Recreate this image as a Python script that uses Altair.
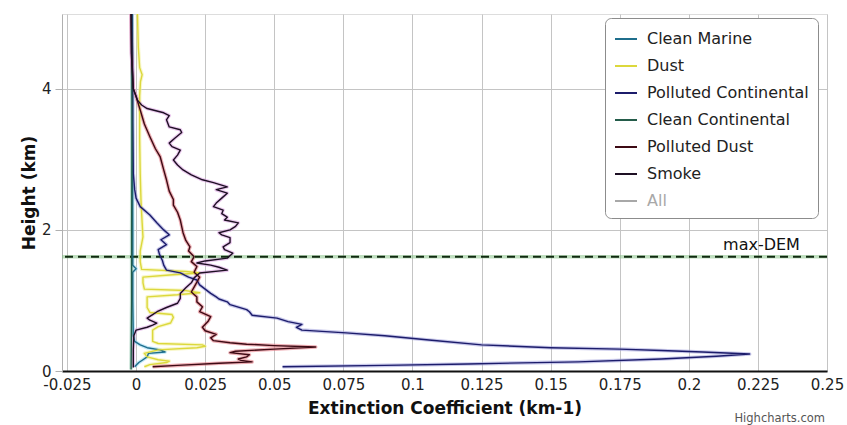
import altair as alt
import pandas as pd

FONT = "DejaVu Sans"

SERIES = ["Clean Marine", "Dust", "Polluted Continental", "Clean Continental",
          "Polluted Dust", "Smoke", "All"]
CORE = ["#1f6e8c", "#dcd83c", "#1c1c6b", "#245c4a", "#3d0a14", "#1e1024", "#a8a8a8"]
HALO = ["#8fd6f2", "#f2f09a", "#9a9ad8", "#8cc4ac", "#e0707a", "#d89ae0", "#dddddd"]

# Clean Marine
CM_H = [0.06, 0.08, 0.12, 0.16, 0.20, 0.25, 0.27, 0.30, 0.33, 0.37, 0.42, 0.50, 1.00, 1.40, 1.45, 1.50, 2.00, 3.00, 4.00, 5.06]
CM_V = [-0.0005, 0.0, 0.001, 0.0025, 0.004, 0.0045, 0.0105, 0.0087, 0.004, 0.0015, -0.0005, -0.001, -0.0012, -0.0012, 0.0, -0.0012, -0.0012, -0.0013, -0.0013, -0.0014]

# Dust
DU_H = [0.06, 0.09, 0.12, 0.14, 0.16, 0.20, 0.25, 0.30, 0.33, 0.35, 0.37, 0.39, 0.42, 0.50, 0.58, 0.63, 0.68, 0.76, 0.80, 0.83, 0.90, 1.00, 1.05, 1.08, 1.11, 1.14, 1.16, 1.25, 1.33, 1.36, 1.39, 1.41, 1.44, 1.55, 1.70, 1.90, 2.10, 2.40, 2.80, 3.30, 3.90, 4.10, 4.20, 4.30, 4.60, 5.06]
DU_V = [0.003, 0.005, 0.011, 0.012, 0.008, 0.004, 0.003, 0.008, 0.022, 0.025, 0.024, 0.008, 0.006, 0.006, 0.006, 0.008, 0.0125, 0.0135, 0.013, 0.005, 0.004, 0.004, 0.004, 0.015, 0.023, 0.018, 0.003, 0.0025, 0.0025, 0.012, 0.023, 0.018, 0.002, 0.0015, 0.0015, 0.0025, 0.0022, 0.0018, 0.0015, 0.0013, 0.0013, 0.0016, 0.0022, 0.0013, 0.0008, 0.0005]

# Polluted Continental
PC_H = [0.06, 0.08, 0.10, 0.13, 0.17, 0.21, 0.24, 0.27, 0.29, 0.31, 0.33, 0.37, 0.44, 0.50, 0.54, 0.58, 0.62, 0.66, 0.70, 0.75, 0.79, 0.84, 0.87, 0.94, 0.98, 1.02, 1.05, 1.10, 1.16, 1.22, 1.29, 1.33, 1.39, 1.43, 1.50, 1.57, 1.65, 1.72, 1.79, 1.86, 1.93, 2.00, 2.10, 2.21, 2.33, 2.45, 2.57, 2.80, 3.50, 4.50, 5.06]
PC_V = [0.053, 0.09, 0.12, 0.16, 0.19, 0.21, 0.222, 0.205, 0.19, 0.175, 0.15, 0.125, 0.106, 0.09, 0.076, 0.060, 0.058, 0.060, 0.055, 0.051, 0.042, 0.041, 0.040, 0.034, 0.033, 0.030, 0.029, 0.027, 0.025, 0.023, 0.022, 0.019, 0.016, 0.011, 0.010, 0.0095, 0.0085, 0.008, 0.011, 0.009, 0.012, 0.010, 0.0075, 0.005, 0.0015, 0.0, -0.0005, -0.001, -0.0012, -0.0013, -0.0015]

# Clean Continental
CC_H = [0.02, 1.00, 2.00, 3.00, 4.00, 5.06]
CC_V = [-0.0018, -0.0016, -0.0016, -0.0015, -0.0015, -0.0016]

# Polluted Dust
PD_H = [0.06, 0.08, 0.11, 0.13, 0.15, 0.17, 0.20, 0.23, 0.26, 0.28, 0.31, 0.34, 0.36, 0.38, 0.40, 0.43, 0.47, 0.52, 0.57, 0.62, 0.70, 0.77, 0.84, 0.91, 0.98, 1.05, 1.12, 1.19, 1.26, 1.33, 1.40, 1.48, 1.55, 1.62, 1.70, 1.76, 1.85, 1.96, 2.05, 2.14, 2.25, 2.35, 2.43, 2.55, 2.71, 2.85, 3.04, 3.15, 3.32, 3.50, 3.70, 3.89, 4.00, 4.50, 5.06]
PD_V = [0.006, 0.015, 0.030, 0.042, 0.038, 0.037, 0.040, 0.041, 0.034, 0.036, 0.050, 0.065, 0.050, 0.040, 0.034, 0.028, 0.027, 0.029, 0.025, 0.024, 0.026, 0.027, 0.023, 0.024, 0.022, 0.022, 0.020, 0.021, 0.022, 0.023, 0.021, 0.022, 0.020, 0.021, 0.019, 0.0195, 0.018, 0.017, 0.0165, 0.016, 0.015, 0.0135, 0.0135, 0.012, 0.011, 0.010, 0.0087, 0.007, 0.005, 0.003, 0.0015, 0.0, -0.001, -0.0016, -0.0018]

# Smoke
SM_H = [0.05, 0.30, 0.50, 0.58, 0.62, 0.65, 0.68, 0.72, 0.75, 0.80, 0.84, 0.90, 0.96, 1.03, 1.10, 1.18, 1.25, 1.32, 1.39, 1.43, 1.47, 1.50, 1.53, 1.56, 1.60, 1.67, 1.72, 1.76, 1.82, 1.89, 1.93, 1.96, 2.00, 2.05, 2.10, 2.14, 2.18, 2.23, 2.28, 2.33, 2.38, 2.45, 2.52, 2.57, 2.61, 2.67, 2.71, 2.78, 2.85, 2.92, 2.99, 3.06, 3.13, 3.18, 3.23, 3.30, 3.38, 3.42, 3.46, 3.56, 3.62, 3.66, 3.72, 3.77, 3.84, 4.00, 4.50, 5.06]
SM_V = [-0.001, -0.001, -0.0008, 0.0, 0.004, 0.006, 0.0075, 0.005, 0.004, 0.006, 0.0076, 0.011, 0.015, 0.016, 0.016, 0.018, 0.020, 0.021, 0.023, 0.033, 0.030, 0.027, 0.022, 0.025, 0.033, 0.035, 0.032, 0.0315, 0.034, 0.034, 0.031, 0.030, 0.034, 0.036, 0.037, 0.032, 0.033, 0.031, 0.0315, 0.028, 0.029, 0.031, 0.033, 0.029, 0.033, 0.028, 0.024, 0.020, 0.017, 0.015, 0.0135, 0.015, 0.016, 0.013, 0.012, 0.014, 0.0165, 0.016, 0.012, 0.011, 0.012, 0.010, 0.004, 0.002, 0.0005, -0.001, -0.0017, -0.0018]

MAX_DEM = 1.62
X_TICKS = [-0.025, 0, 0.025, 0.05, 0.075, 0.1, 0.125, 0.15, 0.175, 0.2, 0.225, 0.25]
Y_TICKS = [0, 2, 4]

profiles = [("Clean Marine", CM_H, CM_V), ("Dust", DU_H, DU_V),
            ("Polluted Continental", PC_H, PC_V), ("Clean Continental", CC_H, CC_V),
            ("Polluted Dust", PD_H, PD_V), ("Smoke", SM_H, SM_V)]
rows = []
for name, hs, vs in profiles:
    k = SERIES.index(name)
    for i, (h, v) in enumerate(zip(hs, vs)):
        rows.append({"series": name, "h": h, "v": v, "idx": i, "halo": HALO[k]})
df = pd.DataFrame(rows)

xscale = alt.Scale(domain=[-0.0268, 0.25], nice=False, zero=False)
yscale = alt.Scale(domain=[0, 5.06], nice=False, zero=False)

xaxis = alt.Axis(values=X_TICKS, labelExpr="replace(format(datum.value, '~g'), '\u2212', '-')",
                 title="Extinction Coefficient (km-1)", grid=True, gridColor="#c4c4c4",
                 domainColor="#111111", domainWidth=2, ticks=False, labelPadding=6,
                 labelFontSize=15, titleFontSize=17, titleFontWeight="bold", titlePadding=8,
                 labelFont=FONT, titleFont=FONT, labelColor="#222", titleColor="#111",
                 labelFlush=False)
yaxis = alt.Axis(values=Y_TICKS, format="d", title="Height (km)", grid=True, gridColor="#c4c4c4",
                 domainColor="#b0b0b0", tickColor="#b0b0b0", tickSize=7, labelPadding=4,
                 labelFontSize=15, titleFontSize=17, titleFontWeight="bold", titlePadding=3,
                 labelFont=FONT, titleFont=FONT, labelColor="#222", titleColor="#111",
                 labelFlush=False)

base = alt.Chart(df)

halo = base.mark_line(strokeWidth=3.6, opacity=0.55, strokeJoin="round").encode(
    x=alt.X("v:Q", scale=xscale, axis=xaxis),
    y=alt.Y("h:Q", scale=yscale, axis=yaxis),
    stroke=alt.Stroke("halo:N", scale=None),
    detail="series:N",
    order=alt.Order("idx:Q"),
)

core = base.mark_line(strokeWidth=1.4, strokeJoin="round").encode(
    x=alt.X("v:Q", scale=xscale),
    y=alt.Y("h:Q", scale=yscale),
    color=alt.Color("series:N", scale=alt.Scale(domain=SERIES, range=CORE),
                    legend=alt.Legend(title=None, orient="none", legendX=543, legendY=4,
                                      symbolType="stroke", symbolStrokeWidth=2, symbolSize=484,
                                      labelFontSize=16, labelFont=FONT,
                                      labelColor={"expr": "datum.label == 'All' ? '#a8a8a8' : '#222222'"},
                                      rowPadding=7, padding=9, labelOffset=9,
                                      strokeColor="#8c8c8c", fillColor="#ffffff",
                                      cornerRadius=6, labelLimit=300)),
    detail="series:N",
    order=alt.Order("idx:Q"),
)

dem_df = pd.DataFrame({"h": [MAX_DEM], "xlab": [0.2402], "label": ["max-DEM"]})
dem_halo = alt.Chart(dem_df).mark_rule(color="#7fc07f", strokeWidth=3.5, opacity=0.5).encode(
    y=alt.Y("h:Q", scale=yscale))
dem = alt.Chart(dem_df).mark_rule(color="#102a10", strokeWidth=2, strokeDash=[8, 5]).encode(
    y=alt.Y("h:Q", scale=yscale))
dem_text = alt.Chart(dem_df).mark_text(align="right", baseline="middle", dy=-12, fontSize=16,
                                       font=FONT, color="#111").encode(
    x=alt.X("xlab:Q", scale=xscale), y=alt.Y("h:Q", scale=yscale), text="label:N")

credit = alt.Chart(pd.DataFrame({"t": ["Highcharts.com"]})).mark_text(
    align="right", baseline="middle", fontSize=11.5, font=FONT, color="#555").encode(
    x=alt.value(763), y=alt.value(405), text="t:N")

chart = alt.layer(halo, dem_halo, dem, core, dem_text, credit).properties(
    width=765, height=357,
    autosize=alt.AutoSizeParams(type="none"),
    padding={"left": 62, "top": 14, "right": 20, "bottom": 54},
).configure_view(stroke=None).configure(background="white")

chart.save("out.html", embed_options={"renderer": "svg", "actions": False})
